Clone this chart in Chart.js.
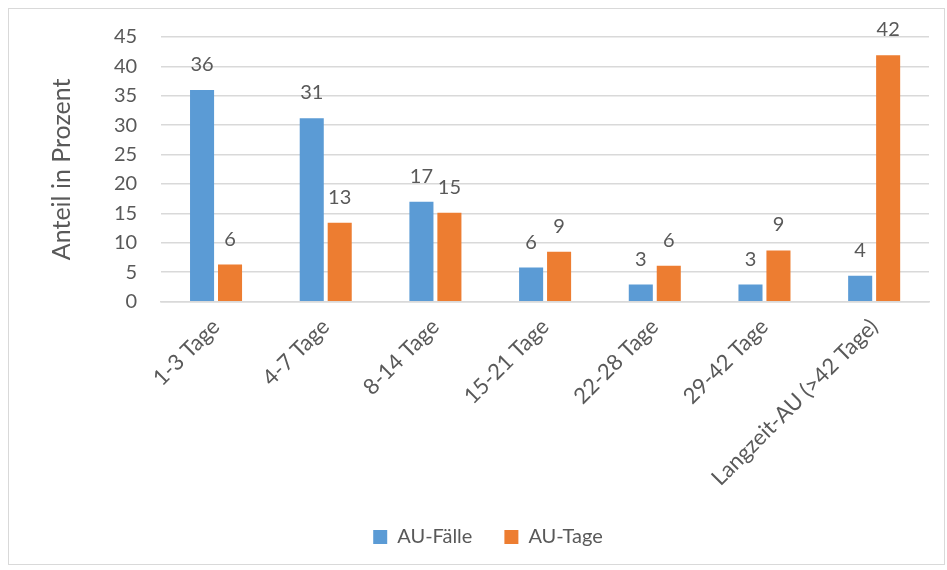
<!DOCTYPE html>
<html>
<head>
<meta charset="utf-8">
<script src="https://cdn.jsdelivr.net/npm/chart.js@4/dist/chart.umd.min.js"></script>
<style>
  html, body { margin: 0; padding: 0; background: #fff; }
  #wrap { position: absolute; left: 8px; top: 8px; width: 937px; height: 557px; border: 1px solid #d9d9d9; box-sizing: border-box; }
  canvas { display: block; }
</style>
</head>
<body>
<div id="wrap"><canvas id="chart"></canvas></div>
<script>
// Kategorien und Werte (Anteil in Prozent)
const categories = ['1-3 Tage', '4-7 Tage', '8-14 Tage', '15-21 Tage', '22-28 Tage', '29-42 Tage', 'Langzeit-AU (>42 Tage)'];
const auFaelle = [36.0, 31.2, 17.0, 5.8, 2.9, 2.9, 4.4];
const auTage = [6.3, 13.4, 15.1, 8.5, 6.1, 8.7, 41.9];
const yTicks = [0, 5, 10, 15, 20, 25, 30, 35, 40, 45];

const textColor = '#595959';
const fontFamily = 'Lato, "Open Sans", sans-serif';

// Werte über den Balken schreiben
const valueLabels = {
    id: 'valueLabels',
    afterDatasetsDraw(chart) {
        const ctx = chart.ctx;
        ctx.save();
        ctx.fillStyle = textColor;
        ctx.font = '20px ' + fontFamily;
        ctx.textAlign = 'center';
        ctx.textBaseline = 'alphabetic';
        chart.data.datasets.forEach((ds, i) => {
            chart.getDatasetMeta(i).data.forEach((bar, j) => {
                ctx.fillText(Math.round(ds.data[j]), bar.x, bar.y - 19);
            });
        });
        ctx.restore();
    }
};

var ctx = document.getElementById('chart').getContext('2d');
var myChart = new Chart(ctx, {
    type: 'bar',
    data: {
        labels: categories,
        datasets: [{
            label: 'AU-Fälle',
            data: auFaelle,
            backgroundColor: '#5B9BD5',
            categoryPercentage: 0.51,
            barPercentage: 0.86
        }, {
            label: 'AU-Tage',
            data: auTage,
            backgroundColor: '#ED7D31',
            categoryPercentage: 0.51,
            barPercentage: 0.86
        }]
    },
    options: {
        responsive: true,
        maintainAspectRatio: false,
        animation: false,
        layout: { padding: { left: 38, right: 15, top: 28, bottom: 7 } },
        plugins: {
            legend: {
                position: 'bottom',
                labels: {
                    color: textColor,
                    font: { family: fontFamily, size: 20 },
                    boxWidth: 14,
                    boxHeight: 14,
                    padding: 32
                }
            },
            tooltip: { enabled: false }
        },
        scales: {
            x: {
                grid: { display: false },
                border: { color: '#d9d9d9', width: 1.5 },
                ticks: {
                    color: textColor,
                    font: { family: fontFamily, size: 22 },
                    minRotation: 45,
                    maxRotation: 45,
                    padding: 4
                }
            },
            y: {
                min: 0,
                max: 45,
                afterBuildTicks: (axis) => { axis.ticks = yTicks.map(v => ({ value: v })); },
                // kein zusätzlicher Rand oben durch den Tick-Abstand
                afterFit: (axis) => { axis.paddingTop = 0; axis.paddingBottom = 0; },
                grid: { color: '#d9d9d9', lineWidth: 1.5, drawTicks: false },
                border: { display: false },
                ticks: {
                    color: textColor,
                    font: { family: fontFamily, size: 20 },
                    padding: 24
                },
                title: {
                    display: true,
                    text: 'Anteil in Prozent',
                    color: textColor,
                    font: { family: fontFamily, size: 25 },
                    padding: { top: 0, bottom: 13 }
                }
            }
        }
    },
    plugins: [valueLabels]
});
</script>
</body>
</html>
